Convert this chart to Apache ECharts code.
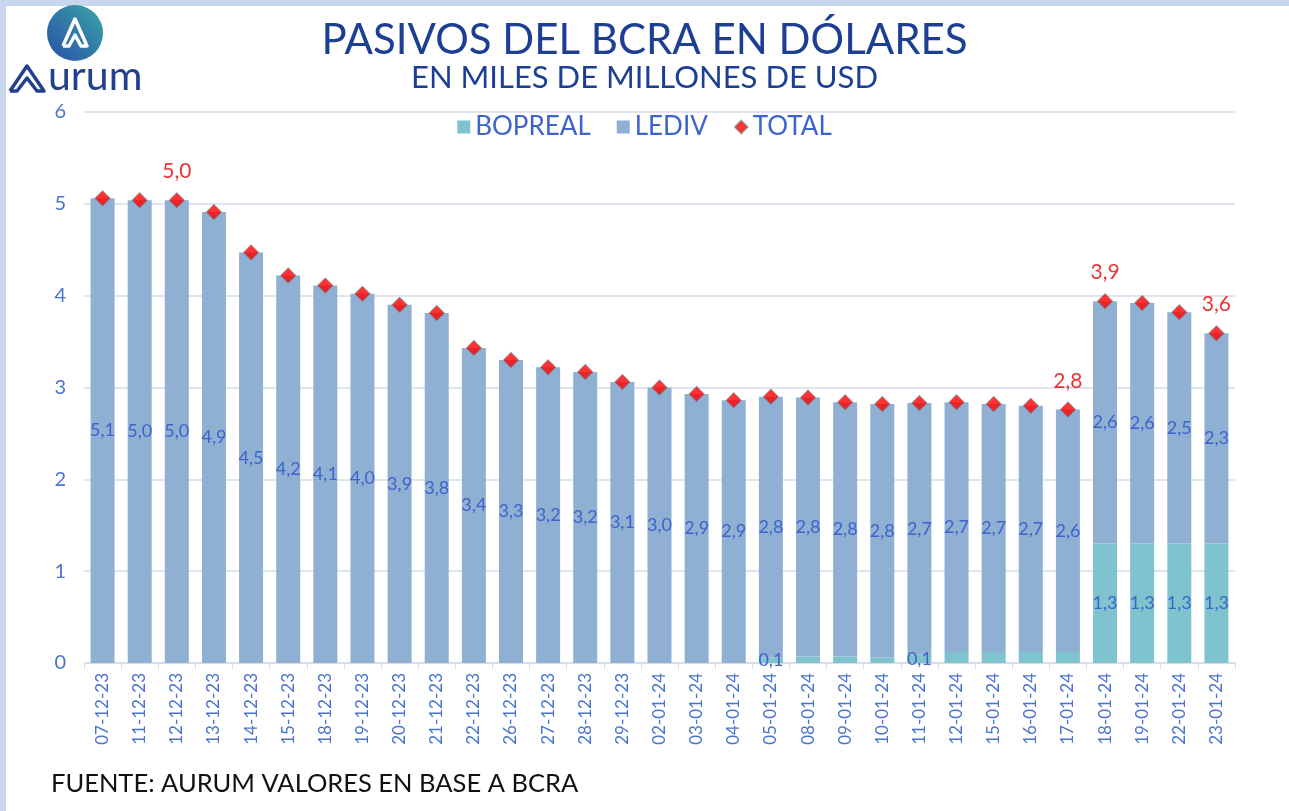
<!DOCTYPE html>
<html>
<head>
<meta charset="utf-8">
<script src="https://cdn.jsdelivr.net/npm/echarts@6/dist/echarts.min.js"></script>
<style>
html, body { margin: 0; padding: 0; background: #fff; }
#box { width: 1289px; height: 811px; }
</style>
</head>
<body>
<div id="box"></div>
<script>
var categories = ['07-12-23', '11-12-23', '12-12-23', '13-12-23', '14-12-23', '15-12-23', '18-12-23',
    '19-12-23', '20-12-23', '21-12-23', '22-12-23', '26-12-23', '27-12-23', '28-12-23', '29-12-23',
    '02-01-24', '03-01-24', '04-01-24', '05-01-24', '08-01-24', '09-01-24', '10-01-24', '11-01-24',
    '12-01-24', '15-01-24', '16-01-24', '17-01-24', '18-01-24', '19-01-24', '22-01-24', '23-01-24'];
var lediv = [5.06, 5.04, 5.04, 4.91, 4.47, 4.22, 4.11, 4.02, 3.90, 3.81, 3.43, 3.30, 3.22, 3.17, 3.06,
    3.00, 2.93, 2.86, 2.84, 2.82, 2.77, 2.76, 2.74, 2.72, 2.70, 2.68, 2.64, 2.64, 2.62, 2.52, 2.29];
var bopreal = [0, 0, 0, 0, 0, 0, 0, 0, 0, 0, 0, 0, 0, 0, 0,
    0, 0, 0, 0.06, 0.07, 0.07, 0.06, 0.09, 0.12, 0.12, 0.12, 0.12, 1.30, 1.30, 1.30, 1.30];
var yTicks = [0, 1, 2, 3, 4, 5, 6];
// which points carry a visible label in the original
var bopLabelIdx = [18, 22, 27, 28, 29, 30];
var totalLabelIdx = [2, 26, 27, 30];

var total = lediv.map(function (v, i) { return Math.round((v + bopreal[i]) * 100) / 100; });

function fmt(v) { return v.toFixed(1).replace('.', ','); }

var FONT = 'Lato';
var BLUE_TXT = '#3d63cc';

var dom = document.getElementById('box');
var myChart = echarts.init(dom, null, { renderer: 'canvas' });

var option = {
    backgroundColor: '#fff',
    animation: false,
    textStyle: { fontFamily: FONT },
    title: [{
        text: 'PASIVOS DEL BCRA EN DÓLARES',
        left: 'center',
        top: 14,
        textStyle: { fontFamily: FONT, fontSize: 42, fontWeight: 'normal', color: '#1c3f94' }
    }, {
        text: 'EN MILES DE MILLONES DE USD',
        left: 'center',
        top: 57,
        textStyle: { fontFamily: FONT, fontSize: 31, fontWeight: 'normal', color: '#1c3f94' }
    }, {
        text: 'FUENTE: AURUM VALORES EN BASE A BCRA',
        left: 46,
        top: 766,
        textStyle: { fontFamily: FONT, fontSize: 25.5, fontWeight: 'normal', color: '#111' }
    }],
    legend: {
        top: 109,
        left: 'center',
        itemWidth: 13,
        itemHeight: 13,
        itemGap: 26,
        textStyle: { fontFamily: FONT, fontSize: 26, color: BLUE_TXT },
        data: [
            { name: 'BOPREAL', icon: 'rect' },
            { name: 'LEDIV', icon: 'rect' },
            { name: 'TOTAL', icon: 'diamond' }
        ]
    },
    grid: {
        left: 84,
        right: 54,
        top: 112,
        bottom: 148
    },
    xAxis: {
        type: 'category',
        data: categories,
        axisLine: { lineStyle: { color: '#d3dcea', width: 1.5 } },
        axisTick: { show: true, alignWithLabel: false, length: 6, lineStyle: { color: '#d3dcea' } },
        axisLabel: {
            rotate: 90,
            interval: 0,
            margin: 10,
            fontFamily: FONT,
            fontSize: 17,
            color: '#4a74cc'
        }
    },
    yAxis: {
        type: 'value',
        min: yTicks[0],
        max: yTicks[yTicks.length - 1],
        interval: 1,
        axisLine: { show: false },
        axisTick: { show: false },
        axisLabel: {
            margin: 18,
            fontFamily: FONT,
            fontSize: 20,
            color: '#4a74cc',
            align: 'right'
        },
        splitLine: { lineStyle: { color: '#d3dcea', width: 1.5 } }
    },
    series: [{
        name: 'BOPREAL',
        type: 'bar',
        stack: 'p',
        barWidth: 24,
        itemStyle: { color: '#7fc3cf' },
        data: bopreal.map(function (v, i) {
            return {
                value: v,
                label: { show: bopLabelIdx.indexOf(i) >= 0 }
            };
        }),
        label: {
            position: 'inside',
            fontFamily: FONT,
            fontSize: 18,
            color: BLUE_TXT,
            formatter: function (p) { return fmt(p.value); }
        }
    }, {
        name: 'LEDIV',
        type: 'bar',
        stack: 'p',
        barWidth: 24,
        itemStyle: { color: '#8fb0d3' },
        data: lediv,
        label: {
            show: true,
            position: 'inside',
            fontFamily: FONT,
            fontSize: 18,
            color: BLUE_TXT,
            formatter: function (p) { return fmt(p.value); }
        }
    }, {
        name: 'TOTAL',
        type: 'scatter',
        symbol: 'diamond',
        symbolSize: 15,
        z: 5,
        itemStyle: {
            color: '#ff0000',
            borderColor: 'rgba(110,110,110,0.6)',
            borderWidth: 1.2
        },
        data: total.map(function (v, i) {
            return {
                value: v,
                label: { show: totalLabelIdx.indexOf(i) >= 0 }
            };
        }),
        label: {
            position: 'top',
            distance: 10,
            fontFamily: FONT,
            fontSize: 21,
            color: '#e60000',
            formatter: function (p) { return fmt(p.value); }
        }
    }],
    graphic: [{
        type: 'rect',
        left: 0, top: 0,
        shape: { width: 1289, height: 811 },
        style: { fill: 'none', stroke: '#c9d7ee', lineWidth: 6 },
        silent: true
    }, {
        type: 'circle',
        shape: { cx: 75, cy: 33, r: 28 },
        style: {
            fill: new echarts.graphic.LinearGradient(0, 1, 1, 0, [
                { offset: 0, color: '#2a4fa8' },
                { offset: 1, color: '#3aa5a8' }
            ])
        }
    }, {
        type: 'polyline',
        shape: { points: [[63, 46], [75, 19], [87, 46], [81, 46], [75, 35], [69, 46], [63, 46]] },
        style: { fill: 'none', stroke: '#fff', lineWidth: 3.5, lineJoin: 'round' }
    }, {
        type: 'polyline',
        shape: { points: [[10, 91], [27, 66], [44, 91], [37, 91], [27, 78], [17, 91], [10, 91]] },
        style: { fill: 'none', stroke: '#23408f', lineWidth: 3.5, lineJoin: 'round' }
    }, {
        type: 'text',
        left: 48,
        top: 56,
        style: { text: 'urum', font: '41px Lato', fill: '#23408f' }
    }]
};

myChart.setOption(option, true);
</script>
</body>
</html>
